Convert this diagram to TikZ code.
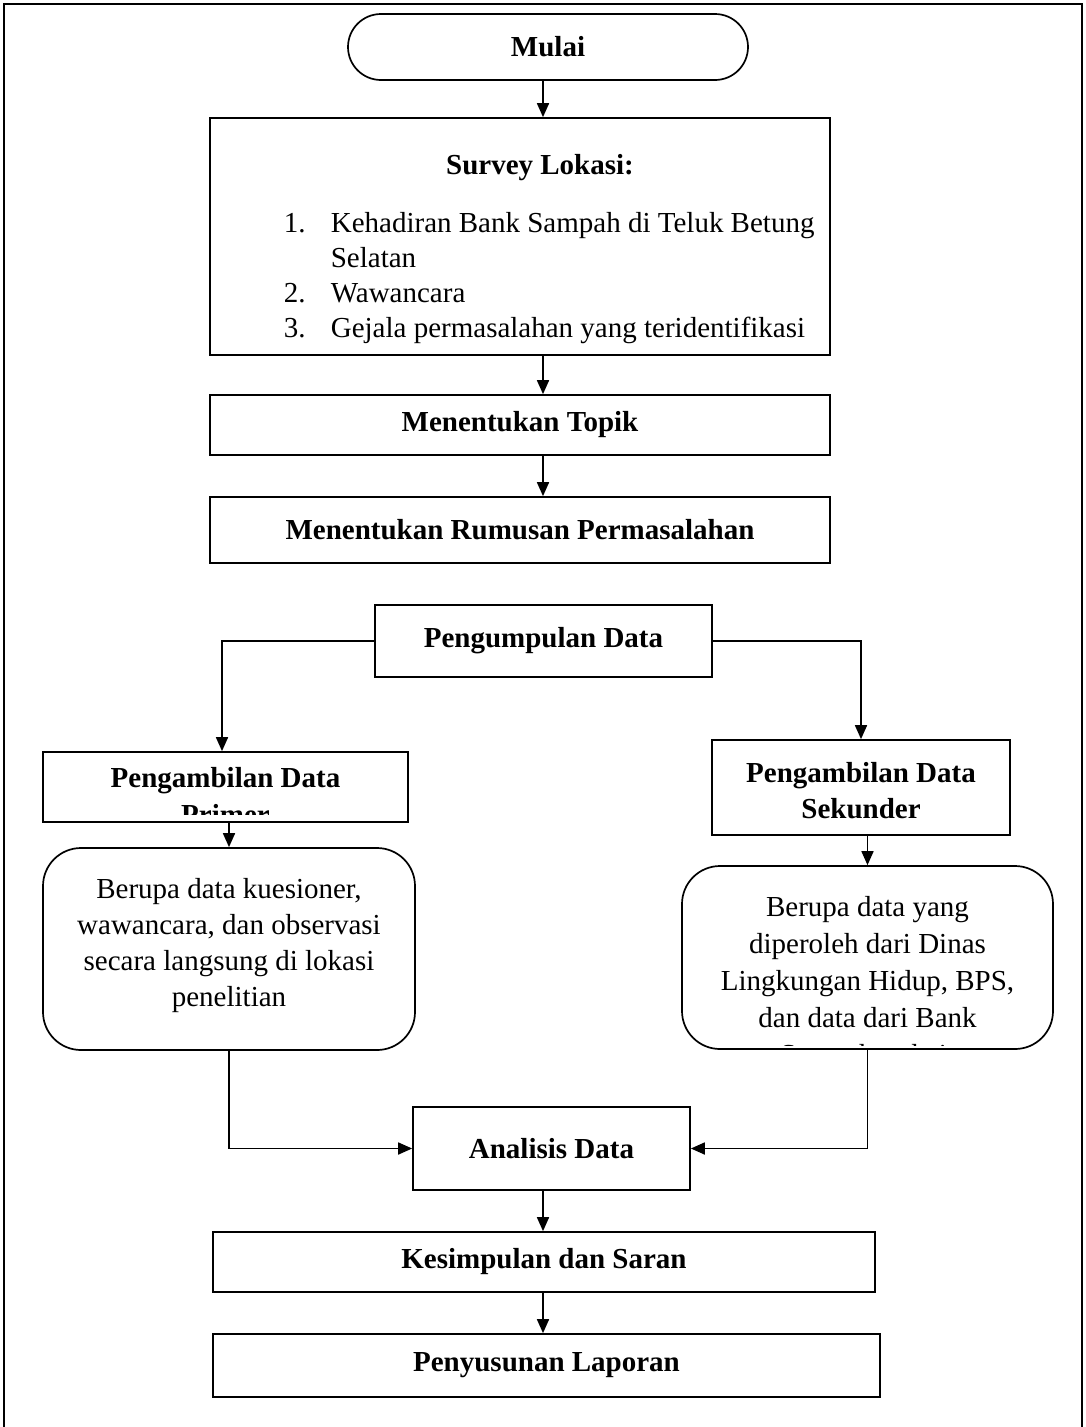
\documentclass[tikz,border=0pt]{standalone}
\usepackage{fontspec}
\setmainfont{Liberation Serif}
\usetikzlibrary{arrows.meta,calc}
\begin{document}
\begin{tikzpicture}[x=1pt,y=-1pt, line width=1.7pt,
  box/.style={draw, rectangle, inner sep=0pt},
  rbox/.style={draw, rectangle, rounded corners=38pt, inner sep=0pt},
  arr/.style={-{Triangle[length=14pt,width=12pt]}},
  txt/.style={font=\fontsize{29}{36}\selectfont, inner sep=0pt},
  btxt/.style={font=\fontsize{29}{36}\selectfont\bfseries, inner sep=0pt}]
\useasboundingbox (0,0) rectangle (1086,1427);
\draw[line width=2pt] (4,1440) -- (4,4) -- (1082,4) -- (1082,1440);

\coordinate (spine) at (543,0);
\coordinate (pl) at (222,0);

% boxes
\node[box, btxt, rounded corners=33pt, minimum width=400pt, minimum height=66pt] (mulai) at (548,47) {Mulai};
\node[box, minimum width=620pt, minimum height=237pt] (survey) at (520,236.5) {};
\node[btxt, anchor=base] (surveyT) at (540,174) {Survey Lokasi:};
\node[txt, anchor=base west] (n1) at (283,232) {1.};
\node[txt, anchor=base west] (i1) at (330,232) {Kehadiran Bank Sampah di Teluk Betung};
\node[txt, anchor=base west] (i1b) at (330,267) {Selatan};
\node[txt, anchor=base west] (n2) at (283,302) {2.};
\node[txt, anchor=base west] (i2) at (330,302) {Wawancara};
\node[txt, anchor=base west] (n3) at (283,337) {3.};
\node[txt, anchor=base west] (i3) at (330,337) {Gejala permasalahan yang teridentifikasi};

\node[box, btxt, minimum width=620pt, minimum height=60pt] (topik) at (520,425) {Menentukan Topik};
\node[box, btxt, minimum width=620pt, minimum height=66pt] (rumusan) at (520,530) {Menentukan Rumusan Permasalahan};
\node[box, btxt, minimum width=337pt, minimum height=72pt] (peng) at (543.5,641) {Pengumpulan Data};

\node[box, minimum width=365pt, minimum height=70pt] (primer) at (225.5,787) {};
\begin{scope}
\clip (43,752) rectangle (408,814);
\node[btxt, anchor=base] (primerA) at (225.5,787) {Pengambilan Data};
\node[btxt, anchor=base] (primerB) at (225.5,824) {Primer};
\end{scope}

\node[box, minimum width=298pt, minimum height=95pt] (sek) at (861,787.5) {};
\node[btxt, anchor=base] (sekA) at (861,782) {Pengambilan Data};
\node[btxt, anchor=base] (sekB) at (861,818) {Sekunder};

\node[rbox, minimum width=372pt, minimum height=202pt] (lr) at (229,949) {};
\node[txt, anchor=base] (lr1) at (229,898) {Berupa data kuesioner,};
\node[txt, anchor=base] (lr2) at (229,934) {wawancara, dan observasi};
\node[txt, anchor=base] (lr3) at (229,970) {secara langsung di lokasi};
\node[txt, anchor=base] (lr4) at (229,1006) {penelitian};

\node[rbox, minimum width=371pt, minimum height=183pt] (rr) at (867.5,957.5) {};
\begin{scope}
\clip (683,867) rectangle (1052,1045);
\node[txt, anchor=base] (rr1) at (867.5,916) {Berupa data yang};
\node[txt, anchor=base] (rr2) at (867.5,953) {diperoleh dari Dinas};
\node[txt, anchor=base] (rr3) at (867.5,990) {Lingkungan Hidup, BPS,};
\node[txt, anchor=base] (rr4) at (867.5,1027) {dan data dari Bank};
\node[txt, anchor=base] (rr5) at (867.5,1064) {Sampah terkait};
\end{scope}

\node[box, btxt, minimum width=277pt, minimum height=83pt] (ana) at (551.5,1148.5) {Analisis Data};
\node[box, btxt, minimum width=662pt, minimum height=60pt] (kes) at (544,1262) {Kesimpulan dan Saran};
\node[box, btxt, minimum width=667pt, minimum height=63pt] (pen) at (546.5,1365.5) {Penyusunan Laporan};

% connectors
\draw[arr] (mulai.south -| spine) -- (survey.north -| spine);
\draw[arr] (survey.south -| spine) -- (topik.north -| spine);
\draw[arr] (topik.south -| spine) -- (rumusan.north -| spine);
\draw[arr] (peng.west) -| (primer.north -| pl);
\draw[arr] (peng.east) -| (sek.north);
\draw[arr] (primer.south -| lr.north) -- (lr.north);
\draw[arr] (sek.south -| rr.north) -- (rr.north);
\draw[arr] (lr.south) |- (ana.west);
\draw[arr] (rr.south) |- (ana.east);
\draw[arr] (ana.south -| spine) -- (kes.north -| spine);
\draw[arr] (kes.south -| spine) -- (pen.north -| spine);
\end{tikzpicture}
\end{document}
